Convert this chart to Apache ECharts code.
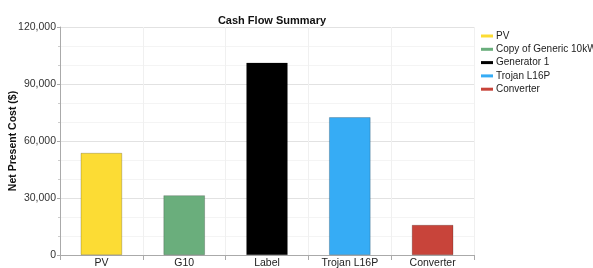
<!DOCTYPE html>
<html>
<head>
<meta charset="utf-8">
<script src="https://cdn.jsdelivr.net/npm/echarts@6/dist/echarts.min.js"></script>
<style>
  html, body { margin: 0; padding: 0; background: #fff; }
  #chart { width: 593px; height: 268px; }
</style>
</head>
<body>
<div id="chart"></div>
<script>
// categories and values
var categories = ['PV', 'G10', 'Label', 'Trojan L16P', 'Converter'];
var seriesNames = ['PV', 'Copy of Generic 10kW', 'Generator 1', 'Trojan L16P', 'Converter'];
var npcValues = [53700, 31400, 101200, 72500, 15800];
var barColors = ['#fcdc34', '#6aae7c', '#000000', '#36acf5', '#c8443a'];
var yTicks = [0, 30000, 60000, 90000, 120000];

var chart = echarts.init(document.getElementById('chart'));

// one series per bar, so each has its own legend entry
var series = [];
for (var i = 0; i < seriesNames.length; i++) {
    var data = categories.map(function (c, j) { return j === i ? npcValues[i] : null; });
    series.push({
        name: seriesNames[i],
        type: 'bar',
        stack: 'npc',
        barWidth: '50%',
        data: data,
        itemStyle: {
            color: barColors[i],
            borderColor: 'rgba(0,0,0,0.35)',
            borderWidth: 0.6
        }
    });
}

var option = {
    animation: false,
    textStyle: { fontFamily: 'Liberation Sans, Arial, sans-serif' },
    title: {
        text: 'Cash Flow Summary',
        left: 267,
        textAlign: 'center',
        top: 10,
        textStyle: { fontSize: 11, fontWeight: 'bold', color: '#111' }
    },
    legend: {
        orient: 'vertical',
        left: 476,
        top: 26,
        icon: 'rect',
        itemWidth: 12,
        itemHeight: 3,
        itemGap: 3.3,
        itemStyle: { borderWidth: 0 },
        textStyle: { fontSize: 10, color: '#222', padding: [0, 0, 0, -2] },
        data: seriesNames
    },
    grid: { left: 60, right: 119, top: 27, bottom: 13, outerBoundsMode: 'none', containLabel: false },
    xAxis: {
        type: 'category',
        data: categories,
        axisLine: { lineStyle: { color: '#aaa' } },
        axisTick: { show: true, lineStyle: { color: '#aaa' } },
        axisLabel: { fontSize: 10.5, color: '#222', margin: 3 },
        splitLine: { show: true, lineStyle: { color: '#f0f0f0' } }
    },
    yAxis: {
        type: 'value',
        min: yTicks[0],
        max: yTicks[yTicks.length - 1],
        interval: 30000,
        name: 'Net Present Cost ($)',
        nameLocation: 'middle',
        nameGap: 41,
        nameMoveOverlap: false,
        nameTextStyle: { fontSize: 10.5, fontWeight: 'bold', color: '#111' },
        axisLine: { show: true, lineStyle: { color: '#aaa' } },
        axisTick: { show: true, length: 3, lineStyle: { color: '#aaa' } },
        minorTick: { show: true, splitNumber: 3, length: 2, lineStyle: { color: '#ccc' } },
        axisLabel: {
            fontSize: 10.5, color: '#333', margin: 4,
            formatter: function (v) { return v.toLocaleString('en-US'); }
        },
        splitLine: { lineStyle: { color: '#e2e2e2' } },
        minorSplitLine: { show: true, lineStyle: { color: '#f4f4f4' } }
    },
    series: series
};

chart.setOption(option);
</script>
</body>
</html>
